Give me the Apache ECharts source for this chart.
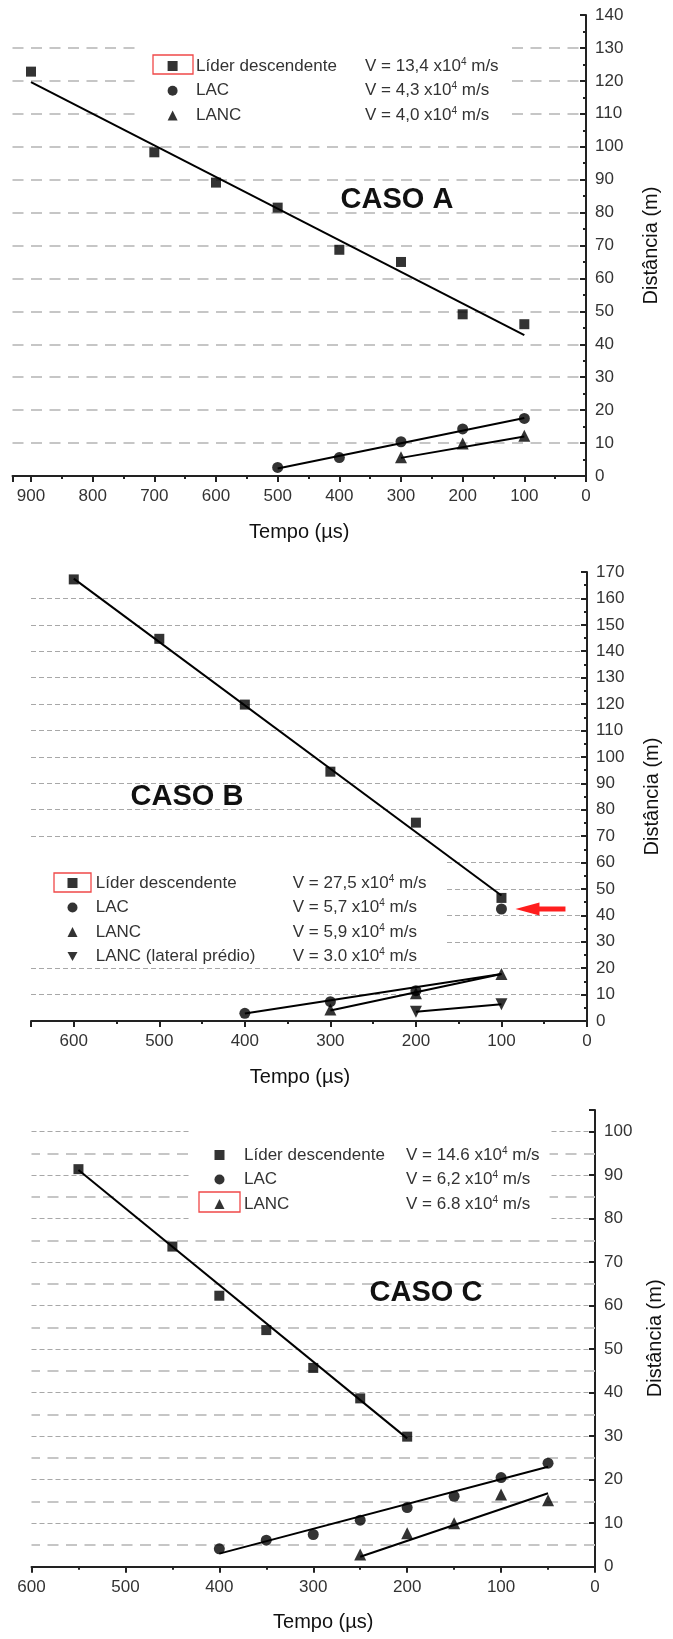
<!DOCTYPE html>
<html>
<head>
<meta charset="utf-8">
<script src="https://cdn.jsdelivr.net/npm/echarts@6/dist/echarts.min.js"></script>
<style>
  html, body { margin: 0; padding: 0; background: #fff; }
  #main { width: 673px; height: 1639px; }
</style>
</head>
<body>
<div id="main"></div>
<script>
const fonte = "'Liberation Sans', Arial, sans-serif";

// ---------- CASO A ----------
const nomesA = ['Líder descendente', 'LAC', 'LANC'];
const iconesA = ['rect', 'circle', 'triangle'];
const velA = ['13,4', '4,3', '4,0'];
const liderA_t = [900, 700, 600, 500, 400, 300, 200, 100];
const liderA_d = [122.8, 98.3, 89.1, 81.5, 68.7, 65.0, 49.1, 46.1];
const lacA_t = [500, 400, 300, 200, 100];
const lacA_d = [2.6, 5.6, 10.4, 14.3, 17.5];
const lancA_t = [300, 200, 100];
const lancA_d = [5.7, 9.9, 12.2];
// retas ajustadas (extremos)
const ajusteLiderA = [[900, 119.6], [100, 42.8]];
const ajusteLacA = [[500, 2.3], [100, 17.6]];
const ajusteLancA = [[300, 5.5], [100, 12.0]];

// ---------- CASO B ----------
const nomesB = ['Líder descendente', 'LAC', 'LANC', 'LANC (lateral prédio)'];
const iconesB = ['rect', 'circle', 'triangle', 'path://M0,0L10,0L5,9Z'];
const velB = ['27,5', '5,7', '5,9', '3.0'];
const liderB_t = [600, 500, 400, 300, 200, 100];
const liderB_d = [167.2, 144.7, 119.8, 94.4, 75.1, 46.6];
const lacB_t = [400, 300, 200, 100];
const lacB_d = [2.9, 7.3, 11.5, 42.4];
const lancB_t = [300, 200, 100];
const lancB_d = [4.4, 10.5, 17.8];
const lateralB_t = [200, 100];
const lateralB_d = [3.5, 6.3];
const ajusteLiderB = [[600, 167.5], [100, 47.5]];
const ajusteLacB = [[400, 2.8], [100, 17.8]];
const ajusteLancB = [[300, 4.0], [100, 17.8]];
const ajusteLateralB = [[200, 3.5], [100, 6.3]];
const destaqueB = [100, 42.4]; // ponto indicado pela seta

// ---------- CASO C ----------
const nomesC = ['Líder descendente', 'LAC', 'LANC'];
const iconesC = ['rect', 'circle', 'triangle'];
const velC = ['14.6', '6,2', '6.8'];
const liderC_t = [550, 450, 400, 350, 300, 250, 200];
const liderC_d = [91.4, 73.6, 62.3, 54.4, 45.7, 38.7, 29.9];
const lacC_t = [400, 350, 300, 250, 200, 150, 100, 50];
const lacC_d = [4.1, 6.1, 7.4, 10.7, 13.6, 16.2, 20.5, 23.8];
const lancC_t = [250, 200, 150, 100, 50];
const lancC_d = [2.8, 7.7, 10.0, 16.6, 15.3];
const ajusteLiderC = [[550, 91.2], [200, 29.5]];
const ajusteLacC = [[400, 3.0], [50, 23.0]];
const ajusteLancC = [[250, 2.3], [50, 16.9]];
const grade5C = [5, 15, 25, 35, 45, 55, 65, 75, 85, 95]; // linhas tracejadas intermediarias

const pares = (ts, ds) => ts.map((t, i) => [t, ds[i]]);

function pontos(name, ts, ds, idx, symbol, size, rotate) {
  return {
    type: 'scatter', name: name, xAxisIndex: idx, yAxisIndex: idx,
    symbol: symbol, symbolSize: size, symbolRotate: rotate || 0,
    itemStyle: { color: '#000' }, data: pares(ts, ds), z: 4
  };
}
function reta(pts, idx) {
  return {
    type: 'line', xAxisIndex: idx, yAxisIndex: idx, data: pts, symbol: 'none',
    lineStyle: { color: '#000', width: 2 }, silent: true, z: 3
  };
}

const corTexto = '#333';
const eixoCor = '#222';

function eixoX(idx, max, hideMax, namePad) {
  return {
    type: 'value', gridIndex: idx, min: 0, max: max, interval: 100, inverse: true,
    name: 'Tempo (µs)', nameLocation: 'middle', nameGap: 46,
    nameTextStyle: { fontSize: 20, color: '#111', fontFamily: fonte, padding: namePad },
    axisLine: { onZero: false, lineStyle: { color: eixoCor, width: 2 } },
    axisTick: { length: 6, lineStyle: { color: eixoCor, width: 2 } },
    minorTick: { show: true, splitNumber: 2, length: 3, lineStyle: { color: eixoCor, width: 2 } },
    axisLabel: { fontSize: 17, color: corTexto, margin: 12, fontFamily: fonte, showMaxLabel: !hideMax },
    splitLine: { show: false }
  };
}
function eixoY(idx, max, gap, grade) {
  return {
    type: 'value', gridIndex: idx, position: 'right', min: 0, max: max, interval: 10,
    name: 'Distância (m)', nameLocation: 'middle', nameRotate: 90, nameGap: gap,
    nameTextStyle: { fontSize: 20, color: '#111', fontFamily: fonte },
    axisLine: { show: true, onZero: false, lineStyle: { color: eixoCor, width: 2 } },
    axisTick: { inside: true, length: 6, lineStyle: { color: eixoCor, width: 2 } },
    minorTick: { show: true, splitNumber: 2, length: 3, lineStyle: { color: eixoCor, width: 2 } },
    axisLabel: { fontSize: 17, color: corTexto, margin: 9, fontFamily: fonte, showMaxLabel: max % 10 === 0 },
    splitLine: { show: true, showMinLine: false, showMaxLine: false, lineStyle: grade }
  };
}

const tracejado = { type: [11, 7.5], color: '#c6c6c6', width: 2 };
const pontilhado = { type: [5, 3], color: '#a8a8a8', width: 1.2 };

function legenda(nomes, icones, vels, colNome, recuo, left, top, padding, gap) {
  return {
    data: nomes.map((n, i) => ({ name: n, icon: icones[i] })),
    orient: 'vertical', left: left, top: top, padding: padding,
    itemWidth: 10, itemHeight: 10, itemGap: gap,
    backgroundColor: '#fff', selectedMode: false, z: 6,
    formatter: function (name) {
      const v = vels[nomes.indexOf(name)];
      return '{n|' + name + '}{v|V = ' + v + ' x10}{s|4}{v| m/s}';
    },
    textStyle: {
      rich: {
        n: { width: colNome, padding: [0, 0, 0, recuo], fontSize: 17, lineHeight: 18, color: corTexto, fontFamily: fonte },
        v: { fontSize: 17, lineHeight: 18, color: corTexto, fontFamily: fonte },
        s: { fontSize: 10, lineHeight: 10, verticalAlign: 'top', color: corTexto, fontFamily: fonte }
      }
    }
  };
}

function titulo(txt, x, y) {
  return {
    type: 'text', x: x, y: y, z: 10,
    style: {
      text: txt, font: "bold 29px 'Liberation Sans', Arial, sans-serif", fill: '#111',
      textAlign: 'center', textVerticalAlign: 'middle', align: 'center', verticalAlign: 'middle'
    }
  };
}
function caixa(x, y, w, h) {
  return {
    type: 'rect', z: 10, shape: { x: x, y: y, width: w, height: h },
    style: { fill: 'none', stroke: '#f04848', lineWidth: 1.3 }
  };
}

const chart = echarts.init(document.getElementById('main'));

const series = [
  reta(ajusteLiderA, 0), reta(ajusteLacA, 0), reta(ajusteLancA, 0),
  pontos('Líder descendente', liderA_t, liderA_d, 0, 'rect', 10),
  pontos('LAC', lacA_t, lacA_d, 0, 'circle', 11),
  pontos('LANC', lancA_t, lancA_d, 0, 'triangle', 12),

  reta(ajusteLiderB, 1), reta(ajusteLacB, 1), reta(ajusteLancB, 1), reta(ajusteLateralB, 1),
  pontos('Líder descendente', liderB_t, liderB_d, 1, 'rect', 10),
  pontos('LAC', lacB_t, lacB_d, 1, 'circle', 11),
  pontos('LANC', lancB_t, lancB_d, 1, 'triangle', 12),
  pontos('LANC (lateral prédio)', lateralB_t, lateralB_d, 1, 'triangle', 12, 180),

  reta(ajusteLiderC, 2), reta(ajusteLacC, 2), reta(ajusteLancC, 2),
  pontos('Líder descendente', liderC_t, liderC_d, 2, 'rect', 10),
  pontos('LAC', lacC_t, lacC_d, 2, 'circle', 11),
  pontos('LANC', lancC_t, lancC_d, 2, 'triangle', 12),
  {
    type: 'line', xAxisIndex: 2, yAxisIndex: 2, data: [], silent: true, z: 1,
    markLine: {
      silent: true, symbol: 'none', label: { show: false }, z: 1,
      lineStyle: tracejado, animation: false,
      data: grade5C.map(v => ({ yAxis: v }))
    }
  }
];

chart.setOption({
  animation: false,
  backgroundColor: '#fff',
  grid: [
    { left: 12.5, top: 15, width: 573.5, height: 461 },
    { left: 31, top: 572, width: 556, height: 449 },
    { left: 31.5, top: 1110, width: 566.5, height: 456.7 }
  ],
  xAxis: [eixoX(0, 930, true, 0), eixoX(1, 650, true, [0, 18, 0, 0]), eixoX(2, 600, false, [0, 0, 0, 20])],
  yAxis: [eixoY(0, 140, 55, tracejado), eixoY(1, 170, 55, pontilhado), eixoY(2, 105, 50, pontilhado)],
  legend: [
    legenda(nomesA, iconesA, velA, 169, 13.4, 142, 44, [13, 12, 3, 25.6], 7.2),
    legenda(nomesB, iconesB, velB, 197, 13.3, 31, 856, [18, 20, 2, 36.5], 7),
    legenda(nomesC, iconesC, velC, 162, 14.5, 190, 1124, [22, 10, 12, 24.5], 7)
  ],
  series: series
});

// anotacoes: titulos, caixas vermelhas e seta apontando o ponto LAC destacado
const alvo = chart.convertToPixel({ xAxisIndex: 1, yAxisIndex: 1 }, destaqueB);
const ax = alvo[0] + 14, ay = alvo[1];
chart.setOption({
  graphic: [
    titulo('CASO A', 397, 200),
    titulo('CASO B', 187, 797),
    titulo('CASO C', 426, 1293),
    caixa(153, 55, 40, 19),
    caixa(54, 873, 37, 19),
    caixa(199, 1192, 41, 20),
    {
      type: 'polygon', z: 10,
      shape: { points: [[ax, ay], [ax + 24, ay - 6.5], [ax + 24, ay - 2.5], [ax + 50, ay - 2.5],
                        [ax + 50, ay + 2.5], [ax + 24, ay + 2.5], [ax + 24, ay + 6.5]] },
      style: { fill: '#ff1e1e' }
    }
  ]
});
</script>
</body>
</html>
